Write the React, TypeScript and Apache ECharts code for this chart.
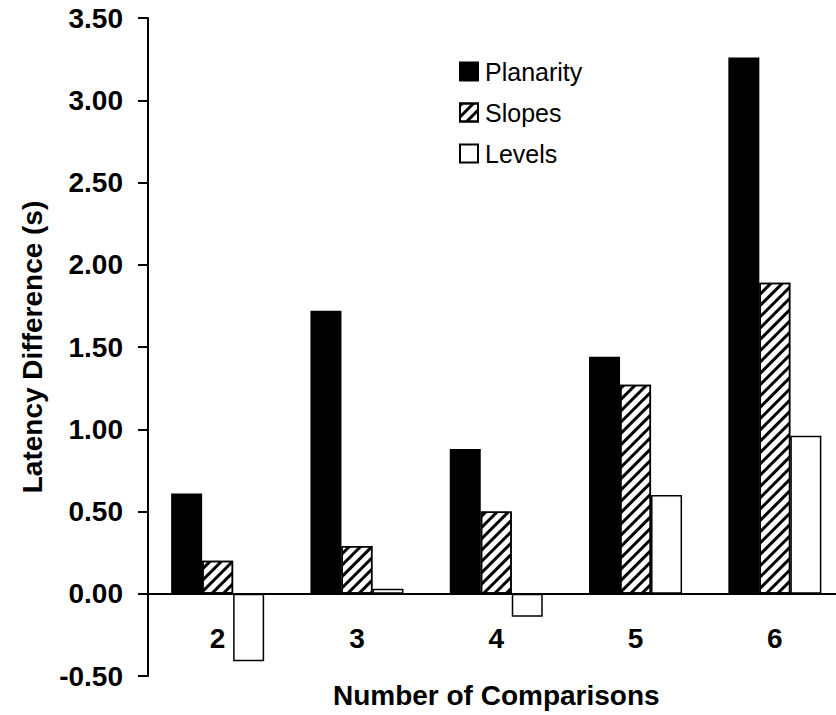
import React, { useEffect, useRef } from "react";
import * as echarts from "echarts";

const categories = ["2", "3", "4", "5", "6"];
const planarity = [0.61, 1.72, 0.88, 1.44, 3.26];
const slopes = [0.2, 0.29, 0.5, 1.27, 1.89];
const levels = [-0.41, 0.03, -0.14, 0.6, 0.96];
const seriesNames = ["Planarity", "Slopes", "Levels"];

const FONT = '"Liberation Sans", Arial, Helvetica, sans-serif';

export default function App() {
  const ref = useRef<HTMLDivElement>(null);
  useEffect(() => {
    document.body.style.margin = "0";
    if (!ref.current) return;
    const chart = echarts.init(ref.current, null, { renderer: "svg" });
    const border = { borderColor: "#000", borderWidth: 1.5 };
    chart.setOption({
      animation: false,
      backgroundColor: "#fff",
      grid: {
        left: 148,
        right: -8.5,
        top: 18,
        bottom: 39,
        containLabel: false,
        outerBoundsMode: "none",
      },
      legend: {
        orient: "vertical",
        left: 459,
        top: 59,
        padding: 0,
        itemWidth: 18,
        itemHeight: 18,
        itemGap: 16,
        icon: "rect",
        textStyle: { fontFamily: FONT, fontSize: 25, color: "#000", padding: [0, 0, 0, 2] },
        data: seriesNames,
      },
      xAxis: {
        type: "category",
        data: categories,
        position: "bottom",
        offset: -82.25,
        name: "Number of Comparisons",
        nameLocation: "middle",
        nameGap: 88,
        nameTextStyle: {
          fontFamily: FONT,
          fontSize: 28,
          fontWeight: "bold",
          color: "#000",
        },
        axisLine: { onZero: false, lineStyle: { color: "#000", width: 2 } },
        axisTick: { show: false },
        axisLabel: { fontFamily: FONT, fontSize: 28, fontWeight: "bold", color: "#000", margin: 31 },
        splitLine: { show: false },
      },
      yAxis: {
        type: "value",
        min: -0.5,
        max: 3.5,
        interval: 0.5,
        name: "Latency Difference (s)",
        nameLocation: "middle",
        nameGap: 102,
        nameRotate: 90,
        nameTextStyle: { fontFamily: FONT, fontSize: 28, fontWeight: "bold", color: "#000" },
        axisLine: { show: true, lineStyle: { color: "#000", width: 2 } },
        axisTick: { show: true, inside: false, length: 10, lineStyle: { color: "#000", width: 2 } },
        axisLabel: {
          fontFamily: FONT,
          fontSize: 28,
          fontWeight: "bold",
          color: "#000",
          margin: 25,
          formatter: (v: number) => v.toFixed(2),
        },
        splitLine: { show: false },
      },
      series: [
        {
          name: seriesNames[0],
          type: "bar",
          data: planarity,
          barWidth: 31,
          barGap: "0%",
          itemStyle: { color: "#000", ...border },
        },
        {
          name: seriesNames[1],
          type: "bar",
          data: slopes,
          barWidth: 31,
          barGap: "0%",
          itemStyle: {
            color: "#fff",
            ...border,
            decal: {
              symbol: "rect",
              symbolSize: 1,
              dashArrayX: [1, 0],
              dashArrayY: [3, 5],
              rotation: -Math.PI / 4,
              color: "#000",
              backgroundColor: "#fff",
            },
          },
        },
        {
          name: seriesNames[2],
          type: "bar",
          data: levels,
          barWidth: 31,
          barGap: "0%",
          itemStyle: { color: "#fff", ...border },
        },
      ],
    });
    return () => chart.dispose();
  }, []);
  return (
    <div
      ref={ref}
      style={{ width: 836, height: 715, position: "absolute", left: 0, top: 0 }}
    />
  );
}
